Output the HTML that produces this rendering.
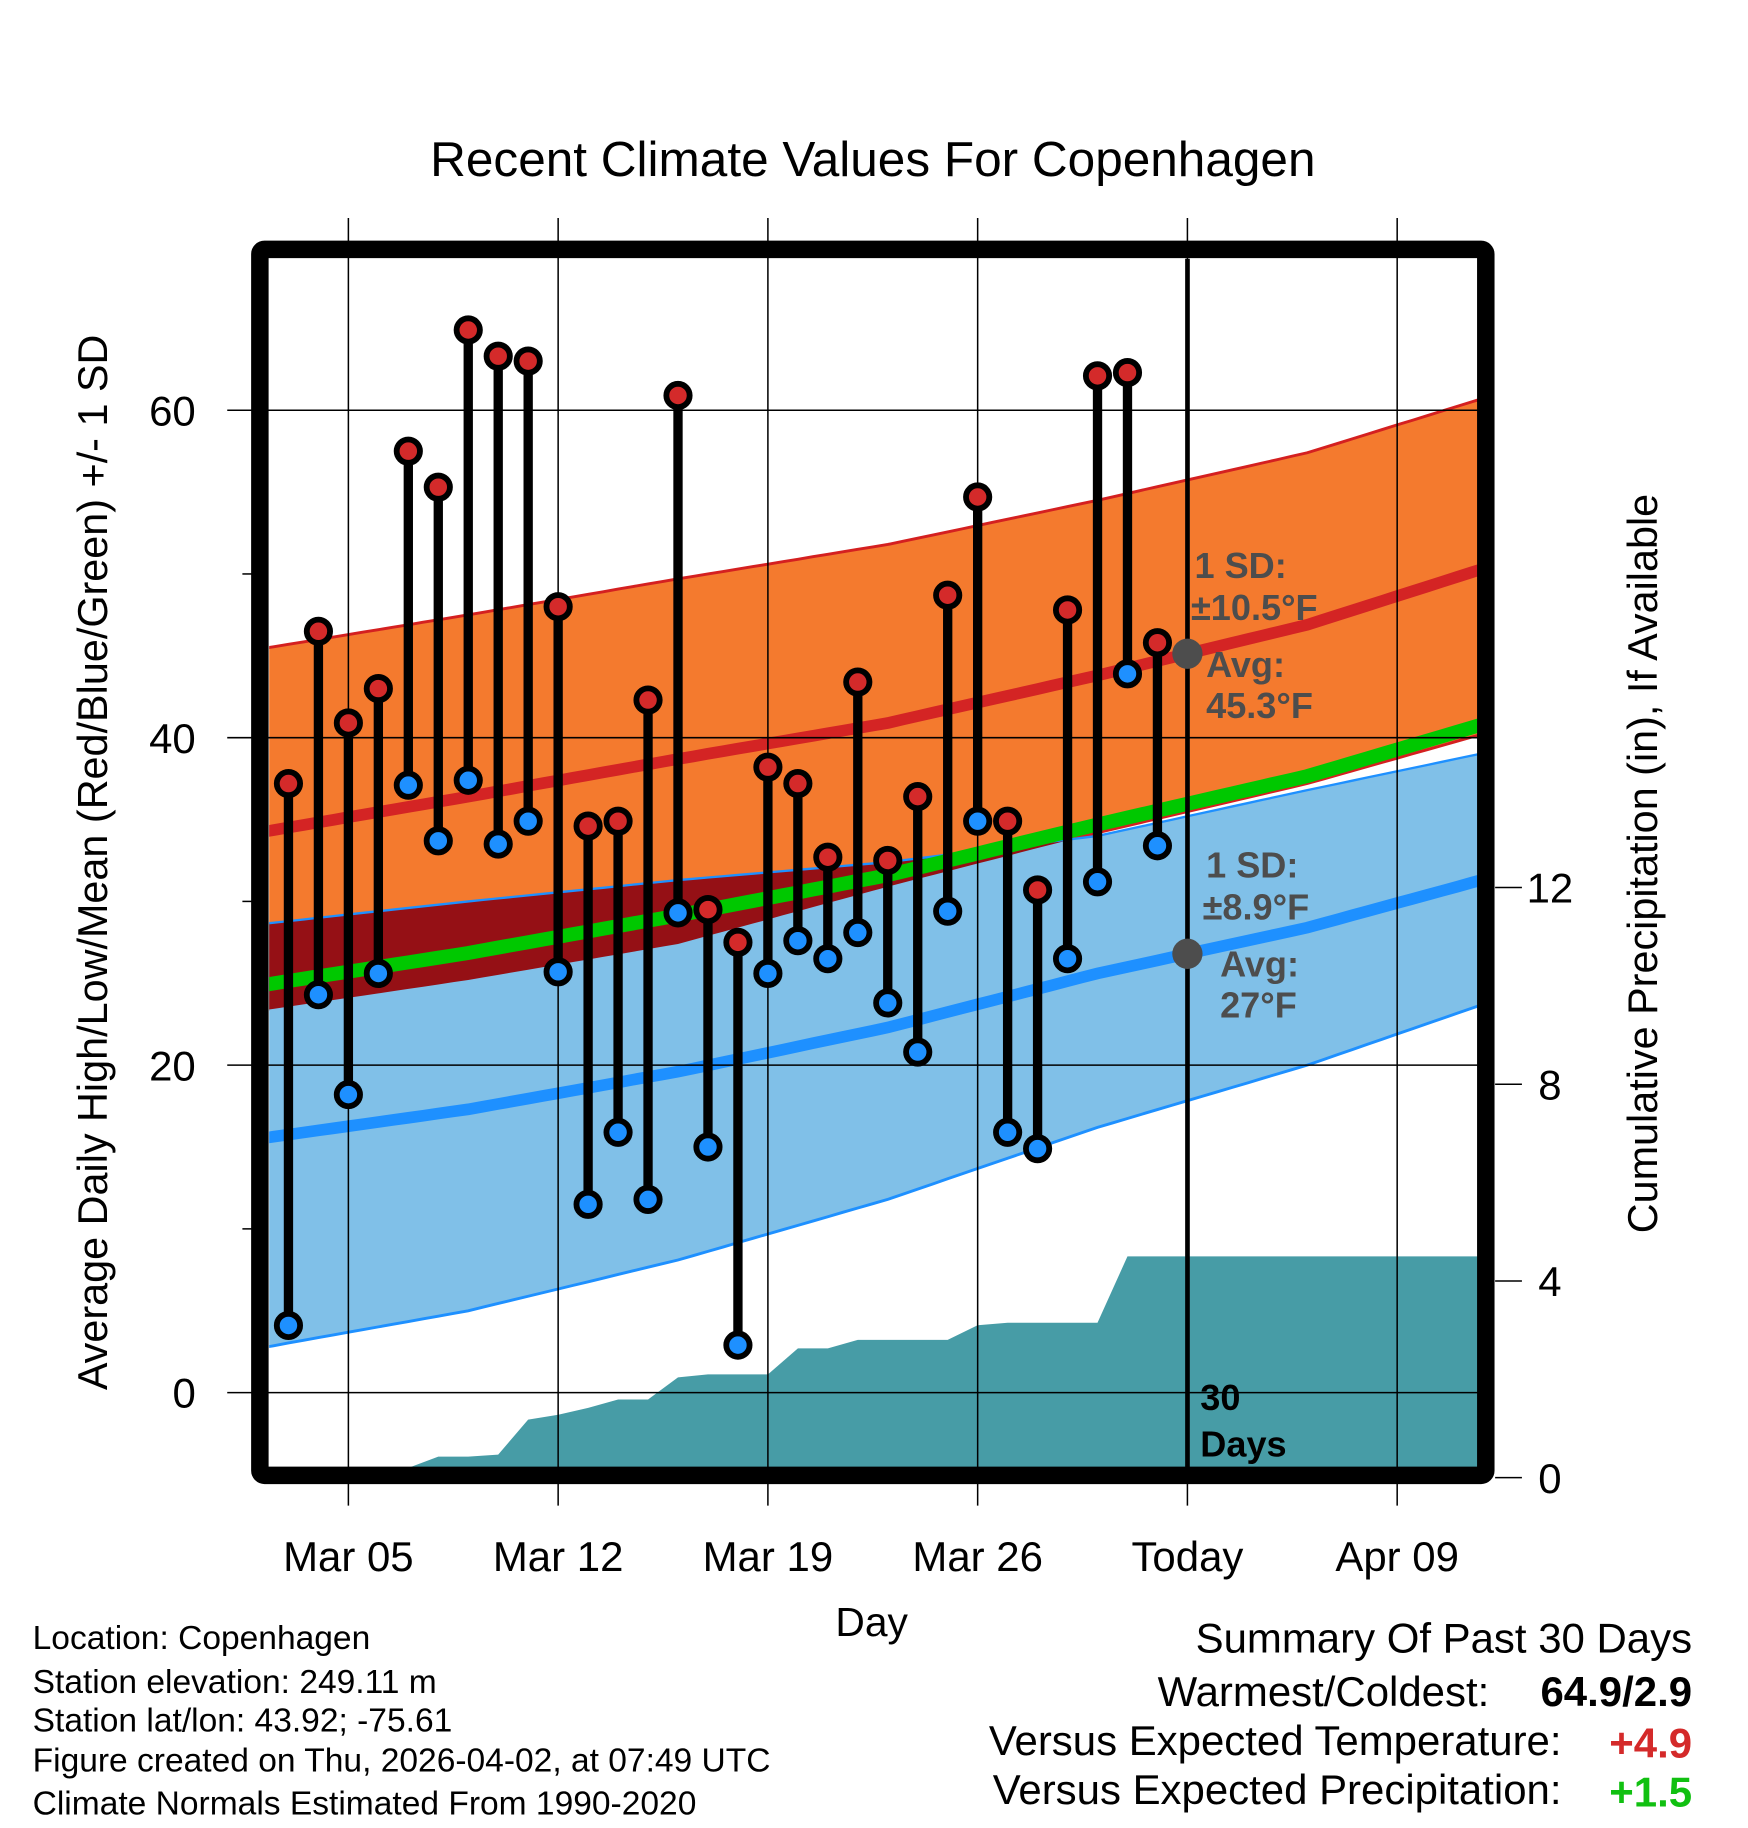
<!DOCTYPE html>
<html><head><meta charset="utf-8"><style>
html,body{margin:0;padding:0;background:#fff}
svg{display:block}
text{font-family:"Liberation Sans",sans-serif}
</style></head><body>
<svg id="chart" width="1748" height="1828" viewBox="0 0 1500 1568.6" xmlns="http://www.w3.org/2000/svg">
<defs>
<clipPath id="plotclip"><rect x="231" y="222" width="1037" height="1037"/></clipPath>
<clipPath id="blueclip"><path id="blueclipPath" d=""/></clipPath>
</defs>
<rect x="0" y="0" width="1500" height="1568.6" fill="#fff"/>
<text x="749" y="151" font-size="42.5" text-anchor="middle">Recent Climate Values For Copenhagen</text>
<g id="bands" clip-path="url(#plotclip)"></g>
<g id="precip" clip-path="url(#plotclip)"></g>
<g id="gridover"></g>
<line x1="1019" y1="222" x2="1019" y2="1259" stroke="#000" stroke-width="4"/>
<g id="annot"></g>
<g id="obs"></g>
<rect x="223" y="214" width="1052" height="1052" fill="none" stroke="#000" stroke-width="15" rx="4"/>
<g id="axes"></g>
<text transform="translate(92,740) rotate(-90)" font-size="35.5" text-anchor="middle">Average Daily High/Low/Mean (Red/Blue/Green) +/- 1 SD</text>
<text transform="translate(1422,741) rotate(-90)" font-size="35.5" text-anchor="middle">Cumulative Precipitation (in), If Available</text>
<text x="748" y="1404" font-size="35" text-anchor="middle">Day</text>
<g font-size="28.8">
<text x="28" y="1415">Location: Copenhagen</text>
<text x="28" y="1453">Station elevation: 249.11 m</text>
<text x="28" y="1486">Station lat/lon: 43.92; -75.61</text>
<text x="28" y="1520">Figure created on Thu, 2026-04-02, at 07:49 UTC</text>
<text x="28" y="1557">Climate Normals Estimated From 1990-2020</text>
</g>
<g font-size="36" text-anchor="end">
<text x="1452" y="1418">Summary Of Past 30 Days</text>
<text x="1278" y="1464">Warmest/Coldest:</text>
<text x="1452" y="1464" font-weight="bold">64.9/2.9</text>
<text x="1340" y="1506">Versus Expected Temperature:</text>
<text x="1452" y="1508" font-weight="bold" fill="#d42a2a">+4.9</text>
<text x="1340" y="1548">Versus Expected Precipitation:</text>
<text x="1452" y="1550" font-weight="bold" fill="#11c011">+1.5</text>
</g>
</svg>
<script>
// day index: 0 = Mar 01
const obsDays = [2,3,4,5,6,7,8,9,10,11,12,13,14,15,16,17,18,19,20,21,22,23,24,25,26,27,28,29,30,31];
const highs = [37.2,46.5,40.9,43.0,57.5,55.3,64.9,63.3,63.0,48.0,34.6,34.9,42.3,60.9,29.5,27.5,38.2,37.2,32.7,43.4,32.5,36.4,48.7,54.7,34.9,30.7,47.8,62.1,62.3,45.8];
const lows = [4.1,24.3,18.2,25.6,37.1,33.7,37.4,33.5,34.9,25.7,11.5,15.9,11.8,29.3,15.0,2.9,25.6,27.6,26.5,28.1,23.8,20.8,29.4,34.9,15.9,14.9,26.5,31.2,43.9,33.4];
const precipCum = [0,0,0,0,0.2,0.43,0.43,0.47,1.18,1.28,1.42,1.59,1.59,2.04,2.1,2.1,2.1,2.63,2.63,2.8,2.8,2.8,2.8,3.1,3.15,3.15,3.15,3.15,4.5,4.5];
const normDays = [1,8,15,22,29,36,42];
const hiMean = [34.2,36.4,38.7,40.9,43.8,46.9,50.4];
const hiSD = [11.2,11.1,11.0,10.9,10.7,10.5,10.4];
const hiLowerEdge = [23.3,25.2,27.4,30.9,34.2,37.2,40.3];
const loMean = [15.5,17.3,19.6,22.3,25.6,28.4,31.4];
const loUpperEdge = [28.6,30.0,31.3,32.4,34.0,36.8,39.1];
const loSD = [12.8,12.3,11.5,10.5,9.4,8.4,7.6];
const xTickDays = [4,11,18,25,32,39];
const xTickLabels = ["Mar 05","Mar 12","Mar 19","Mar 26","Today","Apr 09"];
const yTicks = [0,20,40,60];
const yMinor = [10,30,50];
const y2Ticks = [0,4,8,12];

const X = d => 196.1 + d*25.714;
const Y = v => 1195 - v*14.05;
const Y2 = p => 1268 - p*42.2;
const NS = "http://www.w3.org/2000/svg";
function mk(tag, attrs, parent){const e=document.createElementNS(NS,tag);for(const k in attrs)e.setAttribute(k,attrs[k]);parent.appendChild(e);return e;}
function interp(arr,d){
  if(d<=normDays[0]){const s=(arr[1]-arr[0])/(normDays[1]-normDays[0]);return arr[0]+(d-normDays[0])*s;}
  for(let i=0;i<normDays.length-1;i++){if(d<=normDays[i+1]){const t=(d-normDays[i])/(normDays[i+1]-normDays[i]);return arr[i]+t*(arr[i+1]-arr[i]);}}
  const n=normDays.length;const s=(arr[n-1]-arr[n-2])/(normDays[n-1]-normDays[n-2]);return arr[n-1]+(d-normDays[n-1])*s;
}
const ds=[];for(let d=1.0;d<=42.01;d+=0.5)ds.push(d);
const f = fn => ds.map(d=>[X(d),Y(fn(d))]);
const hiUp=f(d=>interp(hiMean,d)+interp(hiSD,d)), hiLo=f(d=>interp(hiLowerEdge,d));
const loUp=f(d=>interp(loUpperEdge,d)), loLo=f(d=>interp(loMean,d)-interp(loSD,d));
const hiM=f(d=>interp(hiMean,d)), loM=f(d=>interp(loMean,d)), avgM=f(d=>(interp(hiMean,d)+interp(loMean,d))/2);
const pl = pts => pts.map((p,i)=>(i?'L':'M')+p[0].toFixed(1)+','+p[1].toFixed(1)).join(' ');
const band = (a,b) => pl(a)+' '+pl(b.slice().reverse()).replace('M','L')+' Z';

const bands=document.getElementById('bands');
let e;
e=mk('path',{d:band(hiUp,hiLo),fill:'#f47a2e'},bands);


e=mk('path',{d:pl(hiLo),fill:'none',stroke:'#d42020','stroke-width':2.5},bands);


e=mk('path',{d:band(loUp,loLo),fill:'#80c0e8'},bands);


document.getElementById('blueclipPath').setAttribute('d',band(loUp,loLo));
e=mk('path',{d:band(hiUp,hiLo),fill:'#951015','clip-path':'url(#blueclip)'},bands);


e=mk('path',{d:pl(hiUp),fill:'none',stroke:'#d42020','stroke-width':2.5},bands);


e=mk('path',{d:pl(loUp),fill:'none',stroke:'#1e90ff','stroke-width':2},bands);


e=mk('path',{d:pl(loLo),fill:'none',stroke:'#1e90ff','stroke-width':2.5},bands);


e=mk('path',{d:pl(avgM),fill:'none',stroke:'#00c800','stroke-width':12},bands);


e=mk('path',{d:pl(hiM),fill:'none',stroke:'#d42424','stroke-width':10},bands);


e=mk('path',{d:pl(loM),fill:'none',stroke:'#1e90ff','stroke-width':10},bands);



// precip
const pg=document.getElementById('precip');
let pd='M'+X(1)+','+Y2(0);
precipCum.forEach((p,i)=>{pd+=' L'+X(obsDays[i]).toFixed(1)+','+Y2(p).toFixed(1);});
pd+=' L'+X(43)+','+Y2(precipCum[precipCum.length-1]).toFixed(1)+' L'+X(43)+','+Y2(0)+' Z';
e=mk('path',{d:pd,fill:'#479ca6'},pg);



// grid lines
const go=document.getElementById('gridover');
xTickDays.forEach(d=>{
  e=mk('line',{x1:X(d),y1:187,x2:X(d),y2:1292,stroke:'#000','stroke-width':1.3},go);
  
  
});
yTicks.forEach(v=>{
  e=mk('line',{x1:195,y1:Y(v),x2:1268,y2:Y(v),stroke:'#000','stroke-width':1.3},go);
  
  
});

// annotations
const an=document.getElementById('annot');
const todayD=32;
e=mk('circle',{cx:X(todayD),cy:Y(interp(hiMean,todayD)),r:13,fill:'#4d4d4d'},an);


e=mk('circle',{cx:X(todayD),cy:Y(interp(loMean,todayD)),r:13,fill:'#4d4d4d'},an);


const notes=[[1025,496,'1 SD:'],[1022,532,'±10.5°F'],[1035,581,'Avg:'],[1035,616,'45.3°F'],[1035,753,'1 SD:'],[1032,789,'±8.9°F'],[1047,838,'Avg:'],[1047,873,'27°F']];
notes.forEach(n=>{
  e=mk('text',{x:n[0],y:n[1],'font-size':31,'font-weight':'bold',fill:'#4d4d4d'},an);
  e.textContent=n[2];
  
  
});
e=mk('text',{x:1030,y:1210,'font-size':31,'font-weight':'bold',fill:'#000'},an);e.textContent='30';


e=mk('text',{x:1030,y:1250,'font-size':31,'font-weight':'bold',fill:'#000'},an);e.textContent='Days';



// observations
const og=document.getElementById('obs');
obsDays.forEach((d,i)=>{
  e=mk('line',{x1:X(d),y1:Y(highs[i]),x2:X(d),y2:Y(lows[i]),stroke:'#000','stroke-width':8},og);
  
  
});
obsDays.forEach((d,i)=>{
  e=mk('circle',{cx:X(d),cy:Y(highs[i]),r:10,fill:'#d42a2a',stroke:'#000','stroke-width':5},og);
  
  
  e=mk('circle',{cx:X(d),cy:Y(lows[i]),r:10,fill:'#1e90ff',stroke:'#000','stroke-width':5},og);
  
  
});

// axes labels
const ax=document.getElementById('axes');
yTicks.forEach(v=>{
  e=mk('text',{x:168,y:Y(v)+13,'font-size':36,'text-anchor':'end'},ax);e.textContent=v;
  
  
});
yMinor.forEach(v=>{
  e=mk('line',{x1:208,y1:Y(v),x2:216,y2:Y(v),stroke:'#000','stroke-width':1.3},ax);
  
  
});
y2Ticks.forEach(p=>{
  e=mk('line',{x1:1283,y1:Y2(p),x2:1306,y2:Y2(p),stroke:'#000','stroke-width':1.3},ax);
  
  
  e=mk('text',{x:1330,y:Y2(p)+13,'font-size':36,'text-anchor':'middle'},ax);e.textContent=p;
  
  
});
xTickDays.forEach((d,i)=>{
  e=mk('text',{x:X(d),y:1348,'font-size':36,'text-anchor':'middle'},ax);e.textContent=xTickLabels[i];
  
  
});
</script>
</body></html>
